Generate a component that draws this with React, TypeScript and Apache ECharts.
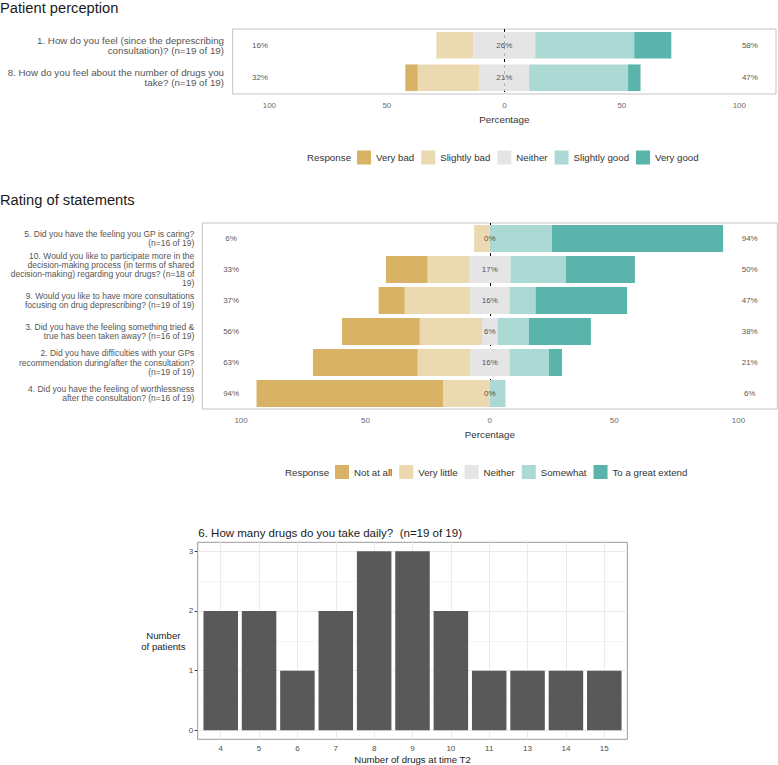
import React, { useEffect, useRef } from 'react';
import * as echarts from 'echarts';

// ---------- data ----------
const perceptionQuestions = [
  '1. How do you feel (since the deprescribing\nconsultation)? (n=19 of 19)',
  '8. How do you feel about the number of drugs you\ntake? (n=19 of 19)',
];
const perceptionLevels = ['Very bad', 'Slightly bad', 'Neither', 'Slightly good', 'Very good'];
const perceptionVeryBad = [0, 5.3];
const perceptionSlightlyBad = [15.8, 26.3];
const perceptionNeither = [26.3, 21.1];
const perceptionSlightlyGood = [42.1, 42.1];
const perceptionVeryGood = [15.8, 5.3];
const perceptionLowLabels = ['16%', '32%'];
const perceptionMidLabels = ['26%', '21%'];
const perceptionHighLabels = ['58%', '47%'];

const ratingQuestions = [
  '5. Did you have the feeling you GP is caring?\n(n=16 of 19)',
  '10. Would you like to participate more in the\ndecision-making process (in terms of shared\ndecision-making) regarding your drugs? (n=18 of\n19)',
  '9. Would you like to have more consultations\nfocusing on drug deprescribing? (n=19 of 19)',
  '3. Did you have the feeling something tried &\ntrue has been taken away? (n=16 of 19)',
  '2. Did you have difficulties with your GPs\nrecommendation during/after the consultation?\n(n=19 of 19)',
  '4. Did you have the feeling of worthlessness\nafter the consultation? (n=16 of 19)',
];
const ratingLevels = ['Not at all', 'Very little', 'Neither', 'Somewhat', 'To a great extend'];
const ratingNotAtAll = [0, 16.7, 10.5, 31.3, 42.1, 75.0];
const ratingVeryLittle = [6.3, 16.7, 26.3, 25.0, 21.1, 18.8];
const ratingNeither = [0, 16.7, 15.8, 6.3, 15.8, 0];
const ratingSomewhat = [25.0, 22.2, 10.5, 12.5, 15.8, 6.3];
const ratingGreatExtend = [68.8, 27.8, 36.8, 25.0, 5.3, 0];
const ratingLowLabels = ['6%', '33%', '37%', '56%', '63%', '94%'];
const ratingMidLabels = ['0%', '17%', '16%', '6%', '16%', '0%'];
const ratingHighLabels = ['94%', '50%', '47%', '38%', '21%', '6%'];

const drugCounts = ['4', '5', '6', '7', '8', '9', '10', '11', '13', '14', '15'];
const patientsPerCount = [2, 2, 1, 2, 3, 3, 2, 1, 1, 1, 1];
const countTicks = [0, 1, 2, 3];
const countGridLines = [0, 0.5, 1, 1.5, 2, 2.5, 3];
const percentTicks = [-100, -50, 0, 50, 100];

// ---------- style / layout ----------
const FONT = '"Liberation Sans", Arial, Helvetica, sans-serif';
const LIKERT_COLORS = ['#D8B365', '#EBD9B2', '#E5E5E5', '#ADD9D5', '#5AB4AC'];
const X_EXT = 115.6;
const LOW_X = -104;
const HIGH_X = 104.5;
const P1 = { left: 232.7, top: 29, width: 543.3, height: 65 };
const P2 = { left: 202.3, top: 223, width: 575, height: 186 };
const P3 = { left: 197.7, top: 542.3, width: 429.6, height: 197 };
const unit3 = P3.width / (drugCounts.length + 0.2);
const P3in = { left: P3.left + 0.1 * unit3, top: P3.top, width: drugCounts.length * unit3, height: P3.height };

function likertAxes(g: number, cats: string[], labelSize: number, lineH: number, margin: number) {
  const xAxis = {
    type: 'value', gridIndex: g, min: -X_EXT, max: X_EXT,
    axisLine: { show: false }, axisTick: { show: false }, splitLine: { show: false },
    axisLabel: {
      customValues: percentTicks, color: '#6b6b6b', fontSize: 8, margin: 7.5, fontFamily: FONT,
      formatter: (v: number) => String(Math.abs(v)),
    },
    name: 'Percentage', nameLocation: 'middle', nameGap: 20,
    nameTextStyle: { fontSize: 9.8, color: '#333', fontFamily: FONT },
  };
  const yAxis = {
    type: 'category', gridIndex: g, data: cats, inverse: true,
    axisLine: { show: false }, axisTick: { show: false }, splitLine: { show: false },
    axisLabel: {
      interval: 0, color: '#555', fontSize: labelSize, lineHeight: lineH, align: 'right', margin, fontFamily: FONT,
    },
  };
  return { xAxis, yAxis };
}

function likertSeries(
  g: number, levels: string[], barW: string,
  low2: number[], low1: number[], mid: number[], high1: number[], high2: number[],
  lowL: string[], midL: string[], highL: string[],
) {
  const base = { type: 'bar', xAxisIndex: g, yAxisIndex: g, stack: 'lk' + g, barWidth: barW, z: 10, silent: true };
  const s: any[] = [
    { ...base, name: levels[2], data: mid.map((v) => -v / 2), itemStyle: { color: LIKERT_COLORS[2] } },
    { ...base, name: levels[2], data: mid.map((v) => v / 2), itemStyle: { color: LIKERT_COLORS[2] } },
    { ...base, name: levels[1], data: low1.map((v) => -v), itemStyle: { color: LIKERT_COLORS[1] } },
    { ...base, name: levels[3], data: high1, itemStyle: { color: LIKERT_COLORS[3] } },
    { ...base, name: levels[0], data: low2.map((v) => -v), itemStyle: { color: LIKERT_COLORS[0] } },
    { ...base, name: levels[4], data: high2, itemStyle: { color: LIKERT_COLORS[4] } },
  ];
  s.push({
    type: 'line', xAxisIndex: g, yAxisIndex: g, data: [], silent: true, z: 1,
    markLine: {
      silent: true, z: 1, symbol: ['none', 'none'], label: { show: false },
      lineStyle: { color: '#000', type: [3, 3], width: 1 },
      data: [{ xAxis: 0 }],
    },
  });
  const lab = (xv: number, texts: string[]) => ({
    type: 'scatter', xAxisIndex: g, yAxisIndex: g, symbolSize: 1, silent: true, z: 20,
    itemStyle: { color: 'rgba(0,0,0,0)' },
    data: texts.map((_, i) => [xv, i]),
    label: {
      show: true, position: 'inside', fontSize: 8, color: '#262626', fontFamily: FONT,
      formatter: (p: any) => texts[p.dataIndex],
    },
  });
  s.push(lab(LOW_X, lowL), lab(0, midL), lab(HIGH_X, highL));
  return s;
}

function buildOption() {
  const a1 = likertAxes(0, perceptionQuestions, 9.75, 10, 8.7);
  const a2 = likertAxes(1, ratingQuestions, 8.5, 9.3, 8);

  const legendBase = {
    orient: 'horizontal', itemWidth: 14, itemHeight: 14, itemGap: 7, padding: 0, icon: 'rect',
    selectedMode: false, textStyle: { fontSize: 9.7, color: '#333', fontFamily: FONT },
  };

  const txt = (x: number, y: number, text: string, fontSize: number, extra: any = {}) => ({
    type: 'text', x, y, silent: true,
    style: { text, fontSize, fontFamily: FONT, fill: '#1a1a1a', verticalAlign: 'middle', align: 'left', ...extra },
  });

  return {
    animation: false,
    textStyle: { fontFamily: FONT },
    grid: [
      { ...P1, show: true, borderColor: '#c4c4c4', borderWidth: 1, backgroundColor: '#fff', containLabel: false },
      { ...P2, show: true, borderColor: '#c4c4c4', borderWidth: 1, backgroundColor: '#fff', containLabel: false },
      { ...P3, show: true, borderColor: '#9a9a9a', borderWidth: 1, backgroundColor: '#fff', containLabel: false },
      { ...P3in, show: false, containLabel: false },
    ],
    xAxis: [
      a1.xAxis,
      a2.xAxis,
      { type: 'value', gridIndex: 2, min: 0, max: 1, show: false },
      {
        type: 'category', gridIndex: 3, data: drugCounts, boundaryGap: true,
        axisLine: { show: false },
        axisTick: { show: true, alignWithLabel: true, length: 3, lineStyle: { color: '#333' } },
        axisLabel: { interval: 0, fontSize: 8, color: '#4d4d4d', margin: 5, fontFamily: FONT },
        splitLine: { show: false },
      },
    ],
    yAxis: [
      a1.yAxis,
      a2.yAxis,
      {
        type: 'value', gridIndex: 2, min: -0.15, max: 3.15,
        axisLine: { show: false }, splitLine: { show: false },
        axisTick: { show: true, customValues: countTicks, length: 3, lineStyle: { color: '#333' } },
        axisLabel: { customValues: countTicks, fontSize: 8, color: '#4d4d4d', margin: 4.5, fontFamily: FONT },
      },
      { type: 'value', gridIndex: 3, min: -0.15, max: 3.15, show: false },
    ],
    legend: [
      { ...legendBase, data: perceptionLevels, left: 357, top: 150.5 },
      { ...legendBase, data: ratingLevels, left: 335, top: 465 },
    ],
    series: [
      ...likertSeries(0, perceptionLevels, '82%',
        perceptionVeryBad, perceptionSlightlyBad, perceptionNeither, perceptionSlightlyGood, perceptionVeryGood,
        perceptionLowLabels, perceptionMidLabels, perceptionHighLabels),
      ...likertSeries(1, ratingLevels, '87%',
        ratingNotAtAll, ratingVeryLittle, ratingNeither, ratingSomewhat, ratingGreatExtend,
        ratingLowLabels, ratingMidLabels, ratingHighLabels),
      {
        type: 'line', xAxisIndex: 2, yAxisIndex: 2, data: [], silent: true, z: 1,
        markLine: {
          silent: true, z: 1, symbol: ['none', 'none'], label: { show: false },
          data: countGridLines.map((v) => ({
            yAxis: v,
            lineStyle: { color: '#ebebeb', width: Number.isInteger(v) ? 1 : 0.5, type: 'solid' },
          })),
        },
      },
      {
        type: 'line', xAxisIndex: 3, yAxisIndex: 3, data: [], silent: true, z: 1,
        markLine: {
          silent: true, z: 1, symbol: ['none', 'none'], label: { show: false },
          lineStyle: { color: '#ebebeb', width: 1, type: 'solid' },
          data: drugCounts.map((c) => ({ xAxis: c })),
        },
      },
      {
        type: 'bar', xAxisIndex: 3, yAxisIndex: 3, data: patientsPerCount, barWidth: '90%', z: 10, silent: true,
        itemStyle: { color: '#595959' },
      },
    ],
    graphic: [
      txt(0, 7.6, 'Patient perception', 14.7),
      txt(0, 200, 'Rating of statements', 14.7),
      txt(198.3, 533.3, '6. How many drugs do you take daily?  (n=19 of 19)', 11.5),
      txt(307, 157.5, 'Response', 9.8, { fill: '#333' }),
      txt(285, 472, 'Response', 9.8, { fill: '#333' }),
      txt(P3.left + P3.width / 2, 759.3, 'Number of drugs at time T2', 9.6, { align: 'center', fill: '#222' }),
      txt(163.4, 641, 'Number\nof patients', 9.6, { align: 'center', fill: '#222', lineHeight: 11.7 }),
    ],
  };
}

export default function App() {
  const ref = useRef<HTMLDivElement>(null);
  useEffect(() => {
    if (!ref.current) return;
    const chart = echarts.init(ref.current, null, { renderer: 'svg' });
    chart.setOption(buildOption() as any);
    return () => chart.dispose();
  }, []);
  return (
    <div
      ref={ref}
      style={{ position: 'absolute', left: 0, top: 0, width: 778, height: 765, background: '#fff' }}
    />
  );
}
